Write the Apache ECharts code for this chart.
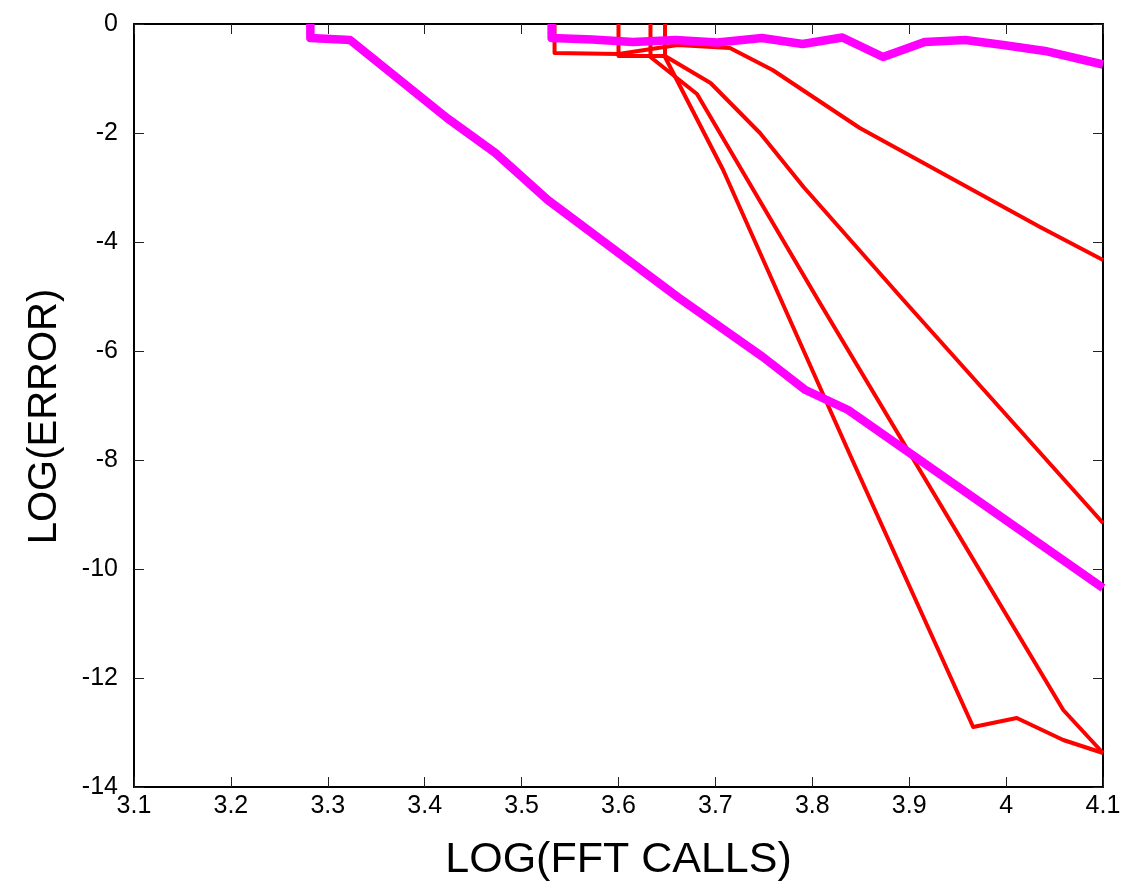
<!DOCTYPE html>
<html>
<head>
<meta charset="utf-8">
<script src="https://cdn.jsdelivr.net/npm/echarts@6/dist/echarts.min.js"></script>
<style>
html,body{margin:0;padding:0;background:#fff;}
#chart{width:1124px;height:889px;}
</style>
</head>
<body>
<div id="chart"></div>
<script>
// ---- data ----
const xTicks = [3.1, 3.2, 3.3, 3.4, 3.5, 3.6, 3.7, 3.8, 3.9, 4.0, 4.1];
const yTicks = [-14, -12, -10, -8, -6, -4, -2, 0];

// thick magenta curve 1 (fast decreasing)
const magenta1X = [3.282, 3.282, 3.323, 3.423, 3.473, 3.527, 3.661, 3.749, 3.793, 3.837, 4.1];
const magenta1Y = [0, -0.257, -0.294, -1.725, -2.367, -3.229, -5.009, -6.110, -6.716, -7.083, -10.349];

// thick magenta curve 2 (flat near top)
const magenta2X = [3.531, 3.531, 3.573, 3.615, 3.659, 3.702, 3.748, 3.790, 3.831, 3.873, 3.916, 3.958, 3.997, 4.040, 4.1];
const magenta2Y = [0, -0.257, -0.284, -0.330, -0.294, -0.339, -0.257, -0.367, -0.248, -0.606, -0.330, -0.294, -0.385, -0.495, -0.743];

// red curves
const redAX = [3.534, 3.534, 3.600, 3.661, 3.715, 3.759, 3.849, 4.035, 4.1];
const redAY = [0, -0.532, -0.550, -0.385, -0.440, -0.844, -1.908, -3.725, -4.330];

const redBX = [3.600, 3.600, 3.648, 3.695, 3.746, 3.791, 3.894, 4.1];
const redBY = [0, -0.587, -0.587, -1.083, -2.000, -2.991, -5.064, -9.156];

const redCX = [3.633, 3.633, 3.681, 3.806, 4.059, 4.1];
const redCY = [0, -0.606, -1.284, -5.064, -12.587, -13.376];

const redDX = [3.648, 3.648, 3.708, 3.839, 3.966, 4.011, 4.059, 4.1];
const redDY = [0, -0.606, -2.679, -7.908, -12.899, -12.734, -13.138, -13.376];

const xName = 'LOG(FFT CALLS)';
const yName = 'LOG(ERROR)';

function zip(xs, ys) { return xs.map((x, i) => [x, ys[i]]); }

const FONT = "'Liberation Sans', Arial, sans-serif";
const chart = echarts.init(document.getElementById('chart'), null, {renderer: 'canvas'});

function redSeries(xs, ys) {
  return {
    type: 'line', data: zip(xs, ys), showSymbol: false, symbol: 'none',
    lineStyle: {color: '#ff0000', width: 4, join: 'round'}, clip: true, z: 2,
    xAxisIndex: 0, yAxisIndex: 0
  };
}
function magSeries(xs, ys) {
  return {
    type: 'line', data: zip(xs, ys), showSymbol: false, symbol: 'none',
    lineStyle: {color: '#ff00ff', width: 8.5, join: 'round'}, clip: true, z: 3,
    xAxisIndex: 0, yAxisIndex: 0
  };
}

const fmtX = v => String(+(+v).toFixed(1));
const tickStyle = {show: true, inside: true, length: 10, lineStyle: {color: '#222', width: 1}};

chart.setOption({
  animation: false,
  backgroundColor: '#ffffff',
  grid: {left: 134, right: 21, top: 24, bottom: 102, containLabel: false},
  xAxis: [{
    type: 'value', min: xTicks[0], max: xTicks[xTicks.length - 1], interval: 0.1,
    position: 'bottom',
    name: xName, nameLocation: 'middle', nameGap: 52,
    nameTextStyle: {fontFamily: FONT, fontSize: 43, color: '#000'},
    axisLine: {show: true, onZero: false, lineStyle: {color: '#000', width: 2}},
    axisTick: tickStyle,
    axisLabel: {fontFamily: FONT, fontSize: 25, color: '#000', margin: 7, formatter: fmtX},
    splitLine: {show: false}
  }, {
    type: 'value', min: xTicks[0], max: xTicks[xTicks.length - 1], interval: 0.1,
    position: 'top',
    axisLine: {show: true, onZero: false, lineStyle: {color: '#000', width: 2}},
    axisTick: tickStyle,
    axisLabel: {show: false},
    splitLine: {show: false}
  }],
  yAxis: [{
    type: 'value', min: yTicks[0], max: yTicks[yTicks.length - 1], interval: 2,
    position: 'left',
    name: yName, nameLocation: 'middle', nameGap: 69, nameRotate: 90,
    nameTextStyle: {fontFamily: FONT, fontSize: 40, color: '#000', padding: [0, 22, 0, 0]},
    axisLine: {show: true, onZero: false, lineStyle: {color: '#000', width: 2}},
    axisTick: tickStyle,
    axisLabel: {fontFamily: FONT, fontSize: 25, color: '#000', margin: 16},
    splitLine: {show: false}
  }, {
    type: 'value', min: yTicks[0], max: yTicks[yTicks.length - 1], interval: 2,
    position: 'right',
    axisLine: {show: true, onZero: false, lineStyle: {color: '#000', width: 2}},
    axisTick: tickStyle,
    axisLabel: {show: false},
    splitLine: {show: false}
  }],
  series: [
    redSeries(redAX, redAY),
    redSeries(redBX, redBY),
    redSeries(redCX, redCY),
    redSeries(redDX, redDY),
    magSeries(magenta1X, magenta1Y),
    magSeries(magenta2X, magenta2Y)
  ]
});
</script>
</body>
</html>
